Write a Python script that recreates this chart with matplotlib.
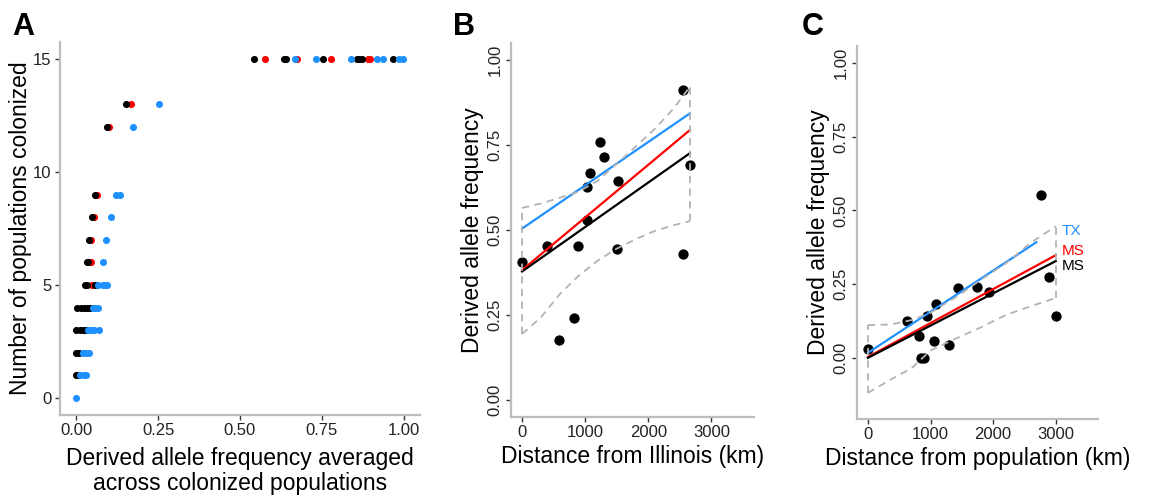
import matplotlib
matplotlib.use('Agg')
import matplotlib.pyplot as plt

plt.rcParams['font.family'] = ['Liberation Sans', 'DejaVu Sans']

# ---------------- Panel A data ----------------
a_red_x = [0.049, 0.046, 0.046, 0.055, 0.062, 0.099, 0.166,
           0.577, 0.674, 0.778, 0.890, 0.896]
a_red_y = [5, 6, 7, 8, 9, 12, 13,
           15, 15, 15, 15, 15]

a_black_x = [0.0, 0.003,
             0.0, 0.008,
             0.0, 0.010, 0.020, 0.030,
             0.003, 0.013, 0.023, 0.033, 0.043,
             0.025, 0.034, 0.058,
             0.031, 0.037,
             0.040,
             0.049,
             0.056,
             0.095,
             0.153,
             0.543, 0.635, 0.641, 0.754, 0.856, 0.865, 0.874, 0.969]
a_black_y = [1, 1,
             2, 2,
             3, 3, 3, 3,
             4, 4, 4, 4, 4,
             5, 5, 5,
             6, 6,
             7,
             8,
             9,
             12,
             13,
             15, 15, 15, 15, 15, 15, 15, 15]

a_blue_x = [0.0,
            0.012, 0.022, 0.030,
            0.020, 0.030, 0.040,
            0.035, 0.045, 0.055, 0.070,
            0.050, 0.058, 0.067,
            0.067, 0.080, 0.086, 0.095,
            0.080,
            0.092,
            0.107,
            0.120, 0.132,
            0.172,
            0.254,
            0.668, 0.733, 0.840, 0.920, 0.936, 0.985, 0.997]
a_blue_y = [0,
            1, 1, 1,
            2, 2, 2,
            3, 3, 3, 3,
            4, 4, 4,
            5, 5, 5, 5,
            6,
            7,
            8,
            9, 9,
            12,
            13,
            15, 15, 15, 15, 15, 15, 15]

a_xticks = [0, 0.25, 0.5, 0.75, 1.0]
a_xticklabels = ['0.00', '0.25', '0.50', '0.75', '1.00']
a_yticks = [0, 5, 10, 15]

# ---------------- Panel B data ----------------
b_x = [0, 394, 583, 819, 882, 1024, 1024, 1071, 1228, 1291, 1512, 1528, 2551, 2551, 2661]
b_y = [0.406, 0.453, 0.176, 0.241, 0.453, 0.529, 0.626, 0.667, 0.759, 0.715, 0.444, 0.644, 0.912, 0.429, 0.691]

b_line_x = [0, 2660]
b_blue_y = [0.504, 0.843]
b_red_y = [0.382, 0.794]
b_black_y = [0.378, 0.726]

b_band_x = [0, 300, 600, 900, 1200, 1500, 1800, 2100, 2400, 2660]
b_band_hi = [0.565, 0.578, 0.595, 0.613, 0.645, 0.695, 0.745, 0.797, 0.857, 0.921]
b_band_lo = [0.194, 0.243, 0.312, 0.366, 0.410, 0.445, 0.473, 0.497, 0.514, 0.526]

# ---------------- Panel C data ----------------
c_x = [0, 616, 821, 850, 890, 948, 1058, 1090, 1295, 1438, 1738, 1927, 2765, 2891, 3001]
c_y = [0.030, 0.125, 0.074, 0.0, 0.0, 0.142, 0.057, 0.182, 0.044, 0.236, 0.240, 0.223, 0.551, 0.274, 0.142]

c_blue_x = [0, 2690]
c_blue_y = [0.017, 0.392]
c_line_x = [0, 3000]
c_red_y = [0.003, 0.348]
c_black_y = [0.0, 0.328]

c_band_x = [0, 360, 700, 1000, 1400, 1800, 2200, 2600, 3000]
c_band_hi = [0.111, 0.113, 0.128, 0.153, 0.205, 0.264, 0.320, 0.390, 0.446]
c_band_lo = [-0.119, -0.074, -0.035, 0.025, 0.065, 0.103, 0.145, 0.175, 0.203]

c_labels = ['TX', 'MS', 'MS']
c_label_y = [0.429, 0.361, 0.311]
c_label_colors = ['#1E90FF', '#FF0000', '#000000']

dist_ticks = [0, 1000, 2000, 3000]
freq_ticks = [0, 0.25, 0.5, 0.75, 1.0]
freq_ticklabels = ['0.00', '0.25', '0.50', '0.75', '1.00']

BLUE = '#1E90FF'
RED = '#FF0000'
GREY = '#B3B3B3'
W, H = 1166, 495
LABEL_FS = 16.5
TICK_FS = 12

fig = plt.figure(figsize=(W / 100, H / 100), dpi=100)


def make_axes(left, right, top, bottom):
    return fig.add_axes([left / W, 1 - bottom / H, (right - left) / W, (bottom - top) / H])


def style(ax):
    for s in ['top', 'right']:
        ax.spines[s].set_visible(False)
    for s in ['left', 'bottom']:
        ax.spines[s].set_color('#BDBDBD')
        ax.spines[s].set_linewidth(1.6)
    ax.tick_params(axis='both', which='major', length=3.5, width=1.0, color='#333333',
                   labelsize=TICK_FS, labelcolor='#222222', pad=2.5)


DASH = (0, (4, 3))

# ---------------- Panel A ----------------
axA = make_axes(60, 420, 42, 415)
style(axA)
axA.scatter(a_red_x, a_red_y, s=26, color=RED, linewidths=0, zorder=3)
axA.scatter(a_black_x, a_black_y, s=26, color='black', linewidths=0, zorder=4)
axA.scatter(a_blue_x, a_blue_y, s=26, color=BLUE, linewidths=0, zorder=5)
axA.set_xlim(-0.05, 1.05)
axA.set_ylim(-0.75, 15.75)
axA.set_xticks(a_xticks)
axA.set_xticklabels(a_xticklabels)
axA.set_yticks(a_yticks)
axA.set_xlabel('Derived allele frequency averaged\nacross colonized populations', fontsize=LABEL_FS,
               labelpad=6, linespacing=1.15)
axA.set_ylabel('Number of populations colonized', fontsize=LABEL_FS, labelpad=1)

# ---------------- Panel B ----------------
axB = make_axes(511, 754, 43, 417)
style(axB)
axB.scatter(b_x, b_y, s=55, color='black', linewidths=0, zorder=3)
axB.plot(b_line_x, b_blue_y, color=BLUE, lw=1.6, zorder=4)
axB.plot(b_line_x, b_red_y, color=RED, lw=1.6, zorder=4)
axB.plot(b_line_x, b_black_y, color='black', lw=1.6, zorder=4)
axB.plot(b_band_x, b_band_hi, color=GREY, lw=1.3, ls=DASH, zorder=5)
axB.plot(b_band_x, b_band_lo, color=GREY, lw=1.3, ls=DASH, zorder=5)
axB.plot([b_band_x[0], b_band_x[0]], [b_band_lo[0], b_band_hi[0]], color=GREY, lw=1.3, ls=DASH, zorder=5)
axB.plot([b_band_x[-1], b_band_x[-1]], [b_band_lo[-1], b_band_hi[-1]], color=GREY, lw=1.3, ls=DASH, zorder=5)
axB.set_xlim(-175, 3675)
axB.set_ylim(-0.05, 1.05)
axB.set_xticks(dist_ticks)
axB.set_yticks(freq_ticks)
axB.set_yticklabels(freq_ticklabels, rotation=90, va='center')
axB.set_xlabel('Distance from Illinois (km)', fontsize=LABEL_FS, labelpad=3)
axB.set_ylabel('Derived allele frequency', fontsize=LABEL_FS, labelpad=3)

# ---------------- Panel C ----------------
axC = make_axes(857, 1098, 46, 419)
style(axC)
axC.scatter(c_x, c_y, s=55, color='black', linewidths=0, zorder=3)
axC.plot(c_blue_x, c_blue_y, color=BLUE, lw=1.6, zorder=4)
axC.plot(c_line_x, c_red_y, color=RED, lw=1.6, zorder=4)
axC.plot(c_line_x, c_black_y, color='black', lw=1.6, zorder=4)
axC.plot(c_band_x, c_band_hi, color=GREY, lw=1.3, ls=DASH, zorder=5)
axC.plot(c_band_x, c_band_lo, color=GREY, lw=1.3, ls=DASH, zorder=5)
axC.plot([c_band_x[0], c_band_x[0]], [c_band_lo[0], c_band_hi[0]], color=GREY, lw=1.3, ls=DASH, zorder=5)
axC.plot([c_band_x[-1], c_band_x[-1]], [c_band_lo[-1], c_band_hi[-1]], color=GREY, lw=1.3, ls=DASH, zorder=5)
for lab, yy, col in zip(c_labels, c_label_y, c_label_colors):
    axC.text(3100, yy, lab, color=col, fontsize=11, ha='left', va='center')
axC.set_xlim(-175, 3675)
axC.set_ylim(-0.2075, 1.0575)
axC.set_xticks(dist_ticks)
axC.set_yticks(freq_ticks)
axC.set_yticklabels(freq_ticklabels, rotation=90, va='center')
axC.set_xlabel('Distance from population (km)', fontsize=LABEL_FS, labelpad=3)
axC.set_ylabel('Derived allele frequency', fontsize=LABEL_FS, labelpad=3)

# Panel letters
for lab, px in [('A', 12), ('B', 453), ('C', 802)]:
    fig.text(px / W, 1 - 27 / H, lab, fontsize=22, fontweight='bold', ha='left', va='center')

fig.savefig('out.png', dpi=100)
